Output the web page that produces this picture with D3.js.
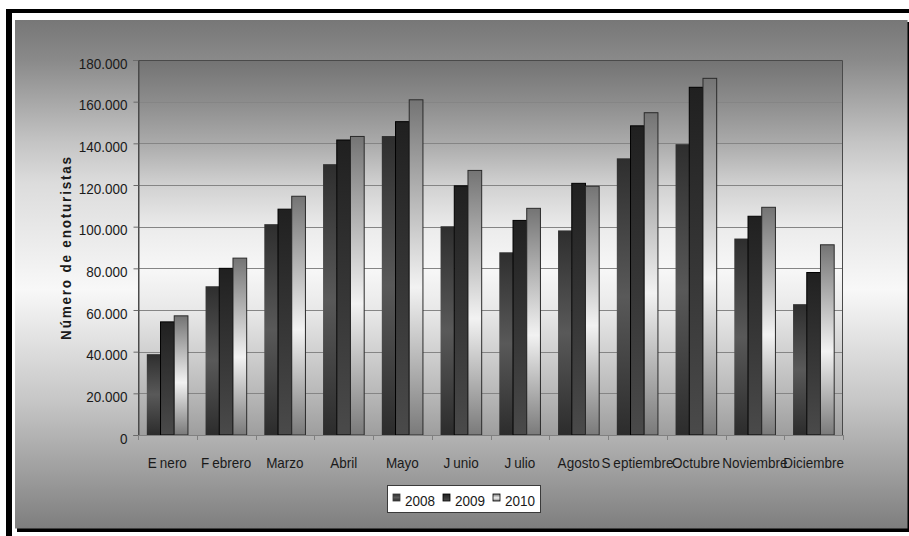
<!DOCTYPE html>
<html>
<head>
<meta charset="utf-8">
<script src="https://cdn.jsdelivr.net/npm/d3@7"></script>
<style>
  body { margin: 0; background: #fff; }
  svg { display: block; }
  text { font-family: "Liberation Sans", Arial, sans-serif; fill: #1a1a1a; }
</style>
</head>
<body>
<svg id="chart" width="909" height="536"></svg>
<script>
// Enotourists per month, three seasons
const months = ["Enero", "Febrero", "Marzo", "Abril", "Mayo", "Junio", "Julio",
                "Agosto", "Septiembre", "Octubre", "Noviembre", "Diciembre"];
const years = ["2008", "2009", "2010"];
const v2008 = [38800, 71400, 101200, 130000, 143500, 100200, 87700, 98200, 132800, 139600, 94300, 62800];
const v2009 = [54300, 80000, 108400, 141600, 150400, 119600, 103000, 120800, 148400, 166900, 105000, 78000];
const v2010 = [57200, 84900, 114600, 143300, 160900, 127000, 108800, 119400, 154700, 171200, 109300, 91300];
const yTicks = [0, 20000, 40000, 60000, 80000, 100000, 120000, 140000, 160000, 180000];
const yTitle = "Número de enoturistas";

const series = [v2008, v2009, v2010];
const rows = months.map((m, i) => ({ month: m, values: years.map((y, j) => ({ year: y, key: j, value: series[j][i] })) }));

const svg = d3.select("#chart");
const W = 909, H = 536;
const plot = { left: 138, top: 60, right: 843, bottom: 435 };

// Spanish number format: 180.000
const es = d3.formatLocale({ decimal: ",", thousands: ".", grouping: [3], currency: ["", " €"] });
const fmt = es.format(",d");

const defs = svg.append("defs");
function vGrad(id, stops) {
  const g = defs.append("linearGradient").attr("id", id)
    .attr("x1", 0).attr("y1", 0).attr("x2", 0).attr("y2", 1);
  stops.forEach(([o, c]) => g.append("stop").attr("offset", o).attr("stop-color", c));
}
vGrad("bgChart", [[0, "#777777"], [0.08, "#8a8a8a"], [0.24, "#c4c4c4"], [0.32, "#dcdcdc"],
                  [0.53, "#f8f8f8"], [0.75, "#c6c6c6"], [0.89, "#9e9e9e"], [1, "#7e7e7e"]]);
vGrad("bgPlot", [[0, "#737373"], [0.11, "#8c8c8c"], [0.22, "#aaaaaa"], [0.33, "#d0d0d0"],
                 [0.45, "#ececec"], [0.56, "#f7f7f7"], [0.67, "#e8e8e8"], [0.78, "#d0d0d0"],
                 [0.89, "#b8b8b8"], [1, "#9e9e9e"]]);
vGrad("g2008", [[0, "#2e2e2e"], [0.5, "#595959"], [1, "#2c2c2c"]]);
vGrad("g2009", [[0, "#202020"], [1, "#4a4a4a"]]);
vGrad("g2010", [[0, "#747474"], [0.56, "#f2f2f2"], [1, "#7a7a7a"]]);
const fills = ["url(#g2008)", "url(#g2009)", "url(#g2010)"];
const strokes = ["none", "#000000", "#2a2a2a"];

// Page frame
svg.append("rect").attr("x", 8).attr("y", 9).attr("width", W - 8).attr("height", 4).attr("fill", "#000");
svg.append("rect").attr("x", 6).attr("y", 9).attr("width", 6).attr("height", H - 9).attr("fill", "#000");

// Chart area with drop shadow
svg.append("rect").attr("x", 17).attr("y", 22).attr("width", 892).attr("height", 510).attr("fill", "#000");
svg.append("rect").attr("x", 15).attr("y", 20).attr("width", 892.5).attr("height", 508.5).attr("fill", "url(#bgChart)");

// Plot area
svg.append("rect").attr("x", plot.left).attr("y", plot.top)
  .attr("width", plot.right - plot.left).attr("height", plot.bottom - plot.top)
  .attr("fill", "url(#bgPlot)");

const x0 = d3.scaleBand().domain(months).range([plot.left, plot.right]).paddingInner(0.3).paddingOuter(0.15);
const x1 = d3.scaleBand().domain(d3.range(years.length)).range([0, x0.bandwidth()]);
const y = d3.scaleLinear().domain([0, 180000]).range([plot.bottom, plot.top]);

// Gridlines
svg.append("g").selectAll("line").data(yTicks.slice(1)).join("line")
  .attr("x1", plot.left).attr("x2", plot.right)
  .attr("y1", d => Math.round(y(d)) + 0.5).attr("y2", d => Math.round(y(d)) + 0.5)
  .attr("stroke", "#858585").attr("stroke-width", 1);

// Bars
const groups = svg.append("g").selectAll("g").data(rows).join("g")
  .attr("transform", d => `translate(${x0(d.month)},0)`);
groups.selectAll("rect").data(d => d.values).join("rect")
  .attr("x", d => x1(d.key))
  .attr("y", d => y(d.value))
  .attr("width", x1.bandwidth())
  .attr("height", d => y(0) - y(d.value))
  .attr("fill", d => fills[d.key])
  .attr("stroke", d => strokes[d.key])
  .attr("stroke-width", 1);

// Plot border
svg.append("path")
  .attr("d", `M${plot.left + 0.5},${plot.bottom}V${plot.top + 0.5}H${plot.right - 0.5}V${plot.bottom}`)
  .attr("fill", "none").attr("stroke", "#4a4a4a").attr("stroke-width", 1);

// Y axis
const yAxis = svg.append("g").attr("transform", `translate(${plot.left + 0.5},0)`)
  .call(d3.axisLeft(y).tickValues(yTicks).tickFormat(fmt).tickSize(5).tickPadding(6));
yAxis.select(".domain").attr("stroke", "#4a4a4a");
yAxis.selectAll(".tick line").attr("stroke", "#6a6a6a");
yAxis.selectAll(".tick text")
  .attr("font-size", 13.5).attr("fill", "#1a1a1a")
  .attr("font-family", "'Liberation Sans', Arial, sans-serif")
  .attr("dy", "0.55em")
  .attr("transform", "scale(1,1.12)");

// X axis: ticks on category boundaries
const bounds = d3.range(months.length + 1).map(i => plot.left + i * x0.step());
svg.append("line").attr("x1", plot.left).attr("x2", plot.right)
  .attr("y1", plot.bottom + 0.5).attr("y2", plot.bottom + 0.5).attr("stroke", "#808080");
svg.append("g").selectAll("line").data(bounds).join("line")
  .attr("x1", d => Math.round(d) + 0.5).attr("x2", d => Math.round(d) + 0.5)
  .attr("y1", plot.bottom).attr("y2", plot.bottom + 5).attr("stroke", "#808080");

const xLabels = svg.append("g").selectAll("text").data(months).join("text")
  .attr("transform", d => `translate(${x0(d) + x0.bandwidth() / 2},468) scale(1,1.12)`)
  .attr("text-anchor", "middle").attr("font-size", 13.5);
xLabels.each(function (d) {
  const t = d3.select(this);
  const gap = /^[EFJS]/.test(d);
  if (gap) {
    t.append("tspan").text(d[0]);
    t.append("tspan").attr("dx", 3).text(d.slice(1));
  } else {
    t.text(d);
  }
});

// Y axis title
svg.append("text")
  .attr("transform", `translate(71,${(plot.top + plot.bottom) / 2}) rotate(-90) scale(1,1.1)`)
  .attr("text-anchor", "middle").attr("font-size", 13.5).attr("font-weight", "bold")
  .attr("letter-spacing", 1.8)
  .text(yTitle);

// Legend
const legend = svg.append("g");
legend.append("rect").attr("x", 387.5).attr("y", 485.5).attr("width", 153).attr("height", 27)
  .attr("fill", "#fff").attr("stroke", "#3a3a3a");
const li = legend.selectAll("g").data(years).join("g")
  .attr("transform", (d, i) => `translate(${393 + i * 50},494)`);
li.append("rect").attr("width", 7).attr("height", 7)
  .attr("fill", (d, i) => fills[i]).attr("stroke", (d, i) => i === 0 ? "#3a3a3a" : "#000").attr("stroke-width", 0.8);
li.append("text").attr("x", 12).attr("transform", "translate(0,12) scale(1,1.12)")
  .attr("font-size", 13.5).text(d => d);
</script>
</body>
</html>
